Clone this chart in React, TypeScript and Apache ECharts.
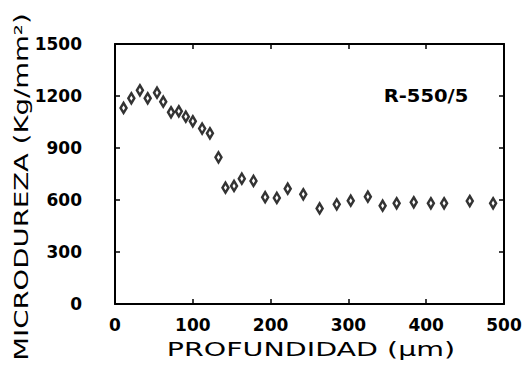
import React, { useEffect, useRef } from "react";
import * as echarts from "echarts";

const depth = [11, 21, 32, 42, 54, 62, 72, 82, 91, 100, 112, 122, 133, 142, 153, 163, 178, 193, 208, 222, 242, 263, 285, 303, 325, 344, 362, 384, 406, 423, 456, 486];
const hardness = [1131, 1187, 1233, 1187, 1219, 1167, 1106, 1112, 1081, 1054, 1012, 985, 846, 671, 681, 723, 710, 616, 612, 665, 633, 551, 575, 596, 619, 567, 581, 587, 581, 581, 594, 581];
const sampleLabel = "R-550/5";
const xTitle = "PROFUNDIDAD (\u00b5m)";
const yTitle = "MICRODUREZA (Kg/mm\u00b2)";

export default function App() {
  const ref = useRef<HTMLDivElement>(null);
  useEffect(() => {
    if (!ref.current) return;
    const chart = echarts.init(ref.current, null, { renderer: "svg" });
    const tickFont = {
      fontFamily: "DejaVu Sans", fontWeight: "bold" as const, fontSize: 17, color: "#000",
      formatter: (v: number) => String(v),
    };
    const axisCommon = {
      type: "value" as const,
      splitLine: { show: false },
      axisLine: { show: true, onZero: false, lineStyle: { color: "#000", width: 2 } },
      axisTick: { show: true, inside: true, length: 5, lineStyle: { color: "#000", width: 1.5 } },
    };
    chart.setOption({
      animation: false,
      backgroundColor: "#fff",
      grid: { left: 115, right: 23, top: 44, bottom: 78, show: false },
      xAxis: [
        { ...axisCommon, min: 0, max: 500, interval: 100, position: "bottom",
          axisLabel: { ...tickFont, margin: 12 } },
        { ...axisCommon, min: 0, max: 500, interval: 100, position: "top",
          axisLabel: { show: false } },
      ],
      yAxis: [
        { ...axisCommon, min: 0, max: 1500, interval: 300, position: "left",
          axisLabel: { ...tickFont, margin: 33 } },
        { ...axisCommon, min: 0, max: 1500, interval: 300, position: "right",
          axisLabel: { show: false } },
      ],
      series: [
        {
          type: "scatter",
          data: depth.map((d, i) => [d, hardness[i]]),
          symbol: "diamond",
          symbolSize: [6, 10],
          itemStyle: { color: "#fff", borderColor: "#000", borderWidth: 2.6 },
        },
      ],
      graphic: [
        {
          type: "text",
          x: 426, y: 96,
          scaleX: 1.15,
          style: { text: sampleLabel, fontFamily: "DejaVu Sans", fontWeight: "bold", fontSize: 17,
            fill: "#000", align: "center", verticalAlign: "middle" },
        },
        {
          type: "text",
          x: 311, y: 350,
          scaleX: 1.5,
          style: { text: xTitle, fontFamily: "DejaVu Sans", fontSize: 19, fill: "#000",
            align: "center", verticalAlign: "middle" },
        },
        {
          type: "text",
          x: 22, y: 187,
          rotation: Math.PI / 2,
          scaleX: 1.45,
          style: { text: yTitle, fontFamily: "DejaVu Sans", fontSize: 19, fill: "#000",
            align: "center", verticalAlign: "middle" },
        },
      ],
    });
    return () => chart.dispose();
  }, []);
  return <div ref={ref} style={{ position: "absolute", left: 0, top: 0, width: 527, height: 382 }} />;
}
